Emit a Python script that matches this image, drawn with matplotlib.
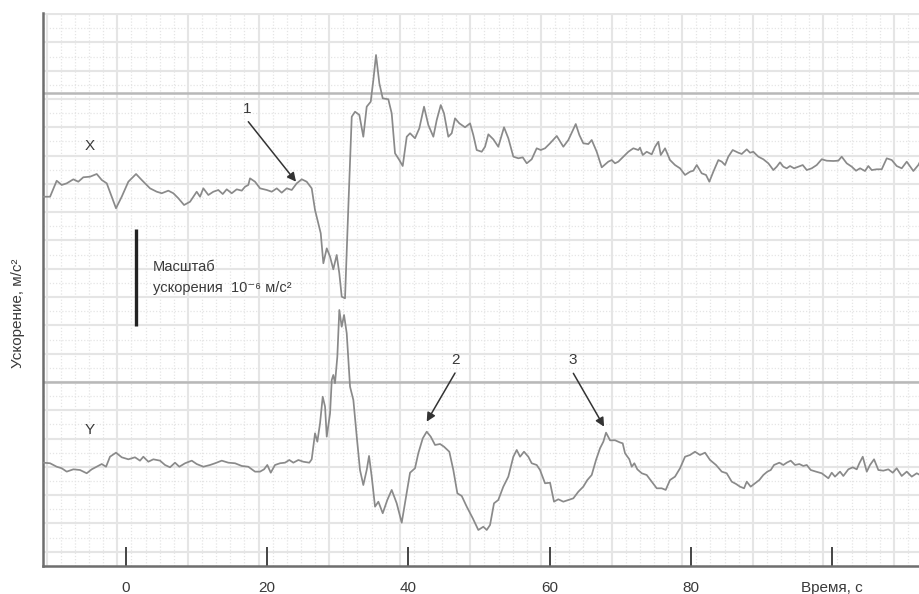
import numpy as np
import matplotlib
matplotlib.use('Agg')
import matplotlib.pyplot as plt

plt.rcParams['font.family'] = ['Liberation Sans', 'DejaVu Sans']

# ---- data (time in s, acceleration in 1e-6 m/s^2 on a common offset scale) ----
t_x = [-11.71, -10.76, -9.82, -9.11, -8.40, -7.46, -6.76, -6.05, -5.10, -4.15,
       -3.44, -2.73, -2.03, -1.42, -0.61, 0.33, 1.42, 2.22, 3.40, 4.35,
       5.06, 5.99, 6.70, 7.41, 8.22, 9.07, 10.01, 10.48, 10.95, 11.66,
       12.37, 13.07, 13.70, 14.26, 14.97, 15.68, 16.39, 16.86, 17.32, 17.56,
       18.27, 18.98, 19.93, 20.64, 21.35, 22.05, 22.76, 23.47, 24.18, 24.89,
       25.59, 26.30, 26.77, 27.24, 27.58, 27.95, 28.43, 28.90, 29.36, 29.84,
       30.21, 30.55, 31.02, 31.49, 31.97, 32.44, 33.05, 33.61, 34.09, 34.66,
       35.03, 35.41, 35.88, 36.36, 37.15, 37.63, 38.10, 38.71, 39.19, 39.76,
       40.23, 40.93, 41.54, 42.21, 42.82, 43.53, 44.01, 44.58, 45.04, 45.65,
       46.13, 46.60, 47.21, 48.02, 48.73, 49.19, 49.67, 50.38, 50.85, 51.32,
       52.03, 52.73, 53.54, 54.15, 54.86, 55.57, 56.19, 56.76, 57.46, 58.17,
       58.74, 59.35, 60.06, 61.01, 61.94, 62.65, 63.13, 63.70, 64.21, 64.77,
       65.48, 65.96, 66.67, 67.38, 68.31, 68.80, 69.26, 69.73, 70.44, 71.15,
       71.86, 72.56, 72.80, 73.19, 73.75, 74.46, 74.93, 75.40, 75.74, 76.35,
       77.05, 77.76, 78.47, 79.18, 79.89, 80.35, 80.84, 81.54, 82.15, 82.62,
       83.19, 83.90, 84.38, 84.84, 85.31, 85.93, 86.73, 87.21, 87.92, 88.39,
       88.85, 89.56, 90.27, 90.98, 91.69, 92.17, 92.63, 93.10, 93.58, 94.05,
       94.62, 95.23, 95.85, 96.42, 97.12, 97.83, 98.54, 99.25, 100.18, 100.89,
       101.37, 102.08, 102.79, 103.40, 103.97, 104.67, 105.14, 105.62, 106.33, 107.04,
       107.75, 108.46, 109.16, 109.87, 110.58, 111.52, 112.22, 112.46]
acc_x = [1.924, 1.924, 2.090, 2.046, 2.063, 2.105, 2.080, 2.126, 2.132, 2.160,
         2.098, 2.063, 1.924, 1.804, 1.924, 2.080, 2.160, 2.098, 2.011, 1.976,
         1.960, 1.987, 1.960, 1.908, 1.838, 1.872, 1.976, 1.924, 2.011, 1.942,
         1.976, 1.994, 1.952, 2.001, 1.960, 2.001, 1.987, 2.028, 2.046, 2.115,
         2.080, 2.011, 1.994, 1.976, 2.011, 1.966, 2.011, 1.994, 2.063, 2.105,
         2.080, 2.011, 1.786, 1.648, 1.544, 1.233, 1.388, 1.301, 1.170, 1.319,
         1.129, 0.886, 0.869, 1.820, 2.755, 2.807, 2.773, 2.547, 2.859, 2.911,
         3.136, 3.396, 3.102, 2.946, 2.936, 2.790, 2.375, 2.305, 2.243, 2.547,
         2.583, 2.531, 2.634, 2.859, 2.669, 2.547, 2.721, 2.876, 2.790, 2.547,
         2.583, 2.738, 2.686, 2.645, 2.686, 2.565, 2.409, 2.391, 2.443, 2.572,
         2.520, 2.443, 2.645, 2.531, 2.340, 2.323, 2.333, 2.271, 2.313, 2.427,
         2.409, 2.427, 2.479, 2.555, 2.443, 2.513, 2.589, 2.679, 2.565, 2.479,
         2.471, 2.513, 2.391, 2.229, 2.288, 2.305, 2.271, 2.288, 2.340, 2.391,
         2.427, 2.409, 2.433, 2.357, 2.391, 2.364, 2.443, 2.495, 2.357, 2.427,
         2.305, 2.253, 2.219, 2.150, 2.184, 2.194, 2.253, 2.167, 2.150, 2.080,
         2.184, 2.305, 2.288, 2.253, 2.340, 2.409, 2.381, 2.368, 2.416, 2.381,
         2.391, 2.340, 2.313, 2.271, 2.201, 2.236, 2.281, 2.236, 2.219, 2.243,
         2.219, 2.236, 2.253, 2.201, 2.219, 2.253, 2.313, 2.298, 2.295, 2.298,
         2.340, 2.271, 2.236, 2.194, 2.219, 2.191, 2.243, 2.201, 2.209, 2.209,
         2.323, 2.305, 2.243, 2.219, 2.288, 2.191, 2.253, 2.288]

t_y = [-11.71, -10.76, -9.82, -9.11, -8.40, -7.46, -6.52, -5.57, -4.86, -4.15,
       -3.44, -2.83, -2.27, -1.42, -0.61, 0.33, 1.27, 1.98, 2.45, 3.16,
       3.87, 4.82, 5.52, 6.23, 6.94, 7.55, 8.36, 9.31, 10.01, 10.95,
       11.90, 12.61, 13.56, 14.49, 15.44, 16.39, 17.32, 18.27, 18.98, 19.55,
       20.01, 20.50, 21.10, 21.81, 22.52, 23.13, 23.70, 24.41, 25.11, 25.96,
       26.30, 26.77, 27.10, 27.48, 27.86, 28.19, 28.43, 28.90, 29.14, 29.36,
       29.60, 29.93, 30.21, 30.55, 30.88, 31.26, 31.73, 32.20, 32.68, 33.14,
       33.61, 34.09, 34.42, 34.80, 35.27, 35.74, 36.36, 37.01, 37.63, 38.34,
       39.05, 39.66, 40.23, 40.93, 41.40, 42.03, 42.59, 43.16, 43.77, 44.48,
       45.04, 45.79, 46.36, 46.93, 47.55, 48.26, 49.11, 49.90, 50.61, 51.09,
       51.56, 52.12, 52.73, 53.44, 54.15, 54.86, 55.34, 55.81, 56.37, 56.98,
       57.46, 58.17, 58.64, 59.35, 60.06, 60.62, 61.23, 61.94, 62.65, 63.36,
       64.07, 64.77, 65.34, 65.96, 66.57, 67.14, 67.61, 67.99, 68.56, 69.26,
       69.97, 70.35, 70.68, 71.29, 71.63, 72.00, 72.42, 73.05, 73.75, 74.46,
       75.17, 75.88, 76.44, 77.05, 77.76, 78.47, 79.18, 79.89, 80.59, 81.30,
       82.01, 82.72, 83.57, 84.38, 85.08, 85.79, 86.40, 86.97, 87.54, 87.92,
       88.48, 89.09, 89.70, 90.27, 90.84, 91.32, 91.78, 92.54, 93.10, 93.58,
       94.15, 94.76, 95.37, 95.93, 96.42, 96.98, 97.73, 98.54, 99.48, 99.96,
       100.42, 101.13, 101.60, 102.31, 102.93, 103.50, 103.87, 104.35, 104.92, 105.38,
       105.95, 106.56, 107.27, 107.97, 108.60, 109.16, 109.87, 110.58, 111.29, 112.00,
       112.46]
acc_y = [-0.838, -0.844, -0.880, -0.896, -0.931, -0.907, -0.914, -0.948, -0.907, -0.880,
         -0.852, -0.880, -0.776, -0.734, -0.782, -0.803, -0.782, -0.817, -0.776, -0.828,
         -0.803, -0.817, -0.862, -0.886, -0.838, -0.880, -0.844, -0.817, -0.852, -0.880,
         -0.862, -0.844, -0.817, -0.838, -0.844, -0.872, -0.880, -0.931, -0.931, -0.907,
         -0.862, -0.942, -0.862, -0.844, -0.838, -0.810, -0.838, -0.810, -0.828, -0.838,
         -0.803, -0.533, -0.620, -0.429, -0.153, -0.256, -0.568, -0.325, 0.021, 0.073,
         -0.013, 0.263, 0.748, 0.574, 0.696, 0.506, -0.049, -0.187, -0.568, -0.914,
         -1.070, -0.914, -0.768, -0.983, -1.295, -1.243, -1.363, -1.225, -1.121, -1.260,
         -1.461, -1.191, -0.942, -0.896, -0.740, -0.585, -0.516, -0.568, -0.654, -0.644,
         -0.672, -0.724, -0.914, -1.156, -1.184, -1.295, -1.415, -1.537, -1.503, -1.537,
         -1.485, -1.260, -1.225, -1.087, -0.983, -0.776, -0.706, -0.776, -0.724, -0.776,
         -0.844, -0.862, -0.914, -1.052, -1.046, -1.243, -1.218, -1.243, -1.225, -1.208,
         -1.139, -1.087, -1.018, -0.966, -0.810, -0.688, -0.620, -0.526, -0.606, -0.605,
         -0.628, -0.637, -0.740, -0.803, -0.880, -0.844, -0.907, -0.948, -0.966, -1.035,
         -1.104, -1.104, -1.121, -1.018, -0.983, -0.896, -0.776, -0.758, -0.724, -0.758,
         -0.734, -0.810, -0.862, -0.931, -0.948, -1.035, -1.059, -1.087, -1.104, -1.035,
         -1.087, -1.052, -1.018, -0.966, -0.931, -0.914, -0.862, -0.838, -0.862, -0.838,
         -0.817, -0.862, -0.852, -0.872, -0.862, -0.914, -0.931, -0.948, -1.000, -0.942,
         -0.983, -0.931, -0.976, -0.907, -0.886, -0.907, -0.844, -0.776, -0.931, -0.862,
         -0.803, -0.914, -0.921, -0.907, -0.942, -0.896, -0.976, -0.931, -0.983, -0.948,
         -0.966]

tick_vals = [0, 20, 40, 60, 80, 100]
tick_labels = ['0', '20', '40', '60', '80', 'Время, с']
baselines = [3.0, 0.0]
scale_bar = [0.582, 1.589]   # 1e-6 m/s^2 scale bar extent

assert len(t_x) == len(acc_x), (len(t_x), len(acc_x))
assert len(t_y) == len(acc_y), (len(t_y), len(acc_y))

XLIM = (-11.76, 112.46)
YLIM = (-1.911, 3.832)

fig = plt.figure(figsize=(9.2, 5.94), dpi=100)
ax = fig.add_axes([43 / 920, 28 / 594, 877 / 920, 553 / 594])
ax.set_xlim(*XLIM)
ax.set_ylim(*YLIM)

# graph-paper grid
gx0, gxs = -1.23, 2.0
gy_s = 0.14695
minor_x = gx0 + gxs * np.arange(-10, 70)
minor_y = gy_s * np.arange(-20, 40)
for xv in minor_x:
    if XLIM[0] < xv < XLIM[1]:
        k = int(round((xv - gx0) / gxs))
        if k % 5 == 0:
            ax.axvline(xv, color='#e5e5e5', lw=1.5, zorder=0)
        else:
            ax.axvline(xv, color='#e5e5e5', lw=0.9, ls=(0, (1, 1.5)), zorder=0)
for yv in minor_y:
    if YLIM[0] < yv < YLIM[1]:
        k = int(round(yv / gy_s))
        if k % 2 == 0:
            ax.axhline(yv, color='#e5e5e5', lw=1.5, zorder=0)
        else:
            ax.axhline(yv, color='#e5e5e5', lw=0.9, ls=(0, (1, 1.5)), zorder=0)

for b in baselines:
    ax.axhline(b, color='#b8b8b8', lw=1.8, zorder=1)

ax.plot(t_x, acc_x, color='#8a8a8a', lw=1.25, zorder=3)
ax.plot(t_y, acc_y, color='#8a8a8a', lw=1.25, zorder=3)

# scale bar
ax.plot([1.42, 1.42], scale_bar, color='#222222', lw=2.4, solid_capstyle='butt', zorder=4)
txt_kw = dict(color='#3a3a3a', fontsize=10.5, ha='left', va='center')
ax.text(3.78, 1.189, 'Масштаб', **txt_kw)
ax.text(3.78, 0.981, 'ускорения  10⁻⁶ м/с²', **txt_kw)

ax.text(-5.1, 2.45, 'X', ha='center', va='center', fontsize=11, color='#3a3a3a')
ax.text(-5.1, -0.50, 'Y', ha='center', va='center', fontsize=11, color='#3a3a3a')

arrow_kw = dict(arrowstyle='-|>', color='#333333', lw=1.1, mutation_scale=13,
                shrinkA=0, shrinkB=0)
notes = [('1', (17.1, 2.832), (17.32, 2.703), (24.08, 2.080)),
         ('2', (46.7, 0.228), (46.6, 0.093), (42.59, -0.412)),
         ('3', (63.22, 0.228), (63.36, 0.090), (67.71, -0.464))]
for lab, pos, tail, head in notes:
    ax.text(pos[0], pos[1], lab, ha='center', va='center', fontsize=11, color='#3a3a3a')
    ax.annotate('', xy=head, xytext=tail, arrowprops=arrow_kw, zorder=5)

# axes styling
for s in ['top', 'right']:
    ax.spines[s].set_visible(False)
for s in ['left', 'bottom']:
    ax.spines[s].set_color('#6e6e6e')
    ax.spines[s].set_linewidth(1.8)
ax.set_xticks(tick_vals)
ax.set_xticklabels(tick_labels)
ax.set_yticks([])
ax.tick_params(axis='x', direction='in', length=14, width=1.4, color='#444444',
               pad=10.5, labelsize=11, labelcolor='#3a3a3a')
ax.set_ylabel('Ускорение, м/с²', fontsize=11, color='#3a3a3a')
ax.yaxis.set_label_coords(-0.0205, 0.4575)

fig.savefig('out.png', dpi=100)
